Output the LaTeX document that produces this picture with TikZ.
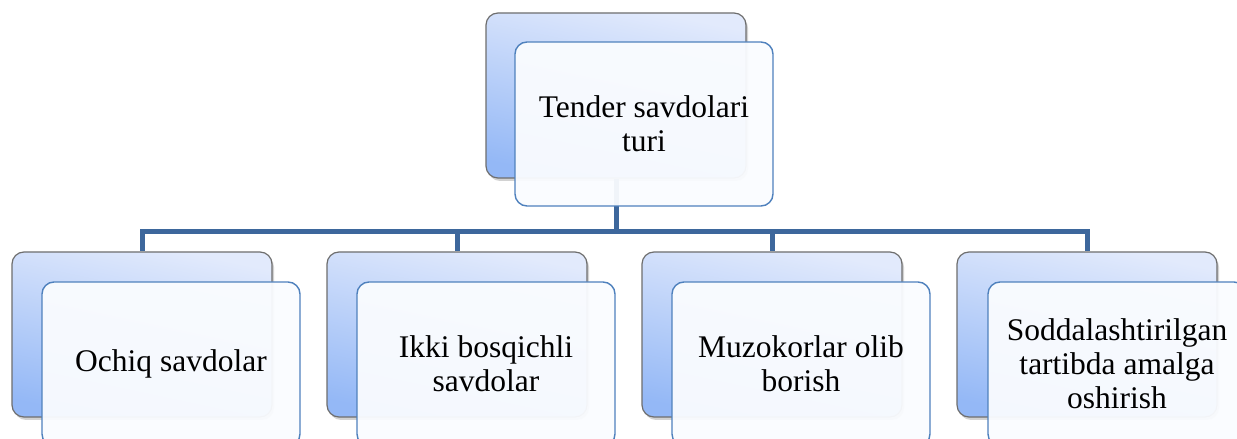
\documentclass[tikz,border=0pt]{standalone}
\usepackage{fontspec}
\setmainfont{Liberation Serif}
\usetikzlibrary{shadows}
\definecolor{backtop}{HTML}{E2EAFC}
\definecolor{backbot}{HTML}{94B8F6}
\definecolor{backline}{HTML}{6E6E6E}
\definecolor{frontline}{HTML}{4F81BD}
\definecolor{frontfill}{HTML}{FAFCFF}
\definecolor{connc}{HTML}{3D679C}
\tikzset{
  backbox/.style={draw=backline, line width=1.2pt, rounded corners=12pt,
    top color=backtop, bottom color=backbot, shading angle=-12,
    minimum width=260pt, minimum height=165pt, inner sep=0pt,
    drop shadow={shadow xshift=2pt, shadow yshift=-3pt, opacity=0.35}},
  frontbox/.style={draw=frontline, line width=1.4pt, rounded corners=12pt,
    fill=frontfill, fill opacity=0.95, text opacity=1,
    minimum width=258pt, minimum height=164pt, inner sep=0pt,
    align=center, font=\fontsize{31.5}{34}\selectfont},
  conn/.style={draw=connc, line width=5pt}
}
\begin{document}
\begin{tikzpicture}[x=1pt,y=1pt]
\useasboundingbox (0,0) rectangle (1237,439);
\clip (0,0) rectangle (1237,439);
\fill[white] (0,0) rectangle (1237,439);
% back boxes
\node[backbox] (b0) at (616,343.5) {};
\node[backbox] (b1) at (142,104.5) {};
\node[backbox] (b2) at (457,104.5) {};
\node[backbox] (b3) at (772,104.5) {};
\node[backbox] (b4) at (1087,104.5) {};
% connectors
\coordinate (bus) at (616,207);
\draw[conn] (b0.south) -- (bus);
\draw[conn] (bus) -| (b1.north);
\draw[conn] (bus) -| (b2.north);
\draw[conn] (bus) -| (b3.north);
\draw[conn] (bus) -| (b4.north);
% front boxes
\node[frontbox] (f0) at (644,315) {Tender savdolari\\turi};
\node[frontbox] (f1) at (171,75) {Ochiq savdolar};
\node[frontbox] (f2) at (486,75) {Ikki bosqichli\\savdolar};
\node[frontbox] (f3) at (801,75) {Muzokorlar olib\\borish};
\node[frontbox] (f4) at (1117,75) {Soddalashtirilgan\\tartibda amalga\\oshirish};
\end{tikzpicture}
\end{document}
